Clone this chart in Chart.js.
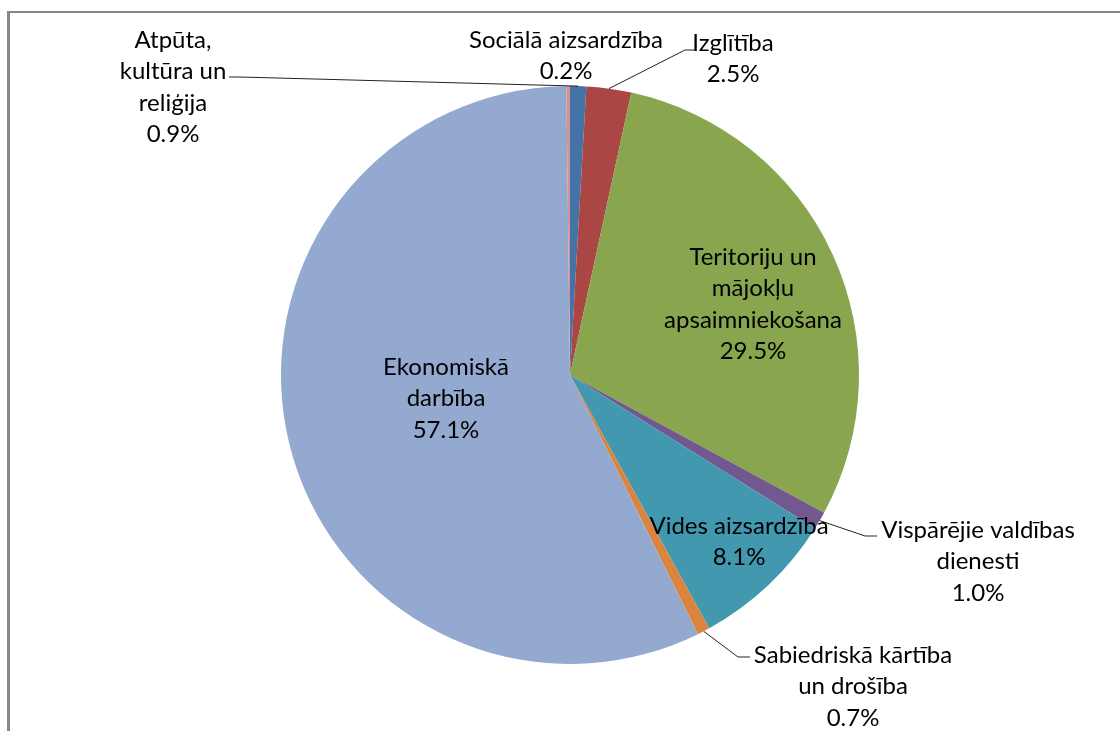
<!DOCTYPE html>
<html lang="lv">
<head>
  <meta charset="UTF-8" />
  <title>Izdevumi pa funkcijām</title>
  <script src="https://cdn.jsdelivr.net/npm/chart.js"></script>
  <style>
    body { margin: 0; background: #fff; }
    #wrap { position: relative; width: 1120px; height: 731px; overflow: hidden; }
    #frame {
      position: absolute; left: 7px; top: 11px; width: 1200px; height: 800px;
      border-top: 2px solid #868686; border-left: 3px solid #868686;
    }
    canvas { position: absolute; left: 0; top: 0; }
  </style>
</head>
<body>
<div id="wrap">
  <div id="frame"></div>
  <canvas id="pie" width="1120" height="731"></canvas>
</div>

<script>
// categories (already split into the lines shown on the chart)
const categories = [
  ['Atpūta,', 'kultūra un', 'reliģija'],
  ['Izglītība'],
  ['Teritoriju un', 'mājokļu', 'apsaimniekošana'],
  ['Vispārējie valdības', 'dienesti'],
  ['Vides aizsardzība'],
  ['Sabiedriskā kārtība', 'un drošība'],
  ['Ekonomiskā', 'darbība'],
  ['Sociālā aizsardzība']
];
const shares = [0.9, 2.5, 29.5, 1.0, 8.1, 0.7, 57.1, 0.2];
const colors = ['#4572A7', '#AA4643', '#89A54E', '#71588F', '#4198AF', '#DB843D', '#93A9CF', '#D19392'];

// label placement relative to pie centre: text centre of first line, optional leader elbow + end
const labelLayout = [
  { dx: -397, dy: -335, elbow: [-330, -298], end: [-341, -298] },
  { dx: 163, dy: -332, elbow: [115, -325], end: [125, -325] },
  { dx: 183, dy: -118 },
  { dx: 408, dy: 155, elbow: [295, 161], end: [307, 161] },
  { dx: 169, dy: 151 },
  { dx: 283, dy: 280, elbow: [168, 282], end: [180, 282] },
  { dx: -124, dy: -8 },
  { dx: -4, dy: -335 }
];

const FONT = '24px Lato, "Open Sans", sans-serif';
const LINE_H = 31.5;

const pieLabels = {
  id: 'pieLabels',
  afterDatasetsDraw(chart) {
    const ctx = chart.ctx;
    const arcs = chart.getDatasetMeta(0).data;
    ctx.save();
    ctx.font = FONT;
    ctx.textAlign = 'center';
    ctx.textBaseline = 'middle';
    arcs.forEach((arc, i) => {
      const L = labelLayout[i];
      const cx = arc.x, cy = arc.y;
      if (L.elbow) {
        const mid = (arc.startAngle + arc.endAngle) / 2;
        const px = cx + Math.cos(mid) * arc.outerRadius;
        const py = cy + Math.sin(mid) * arc.outerRadius;
        ctx.strokeStyle = '#222';
        ctx.lineWidth = 1;
        ctx.beginPath();
        ctx.moveTo(px, py);
        ctx.lineTo(cx + L.elbow[0], cy + L.elbow[1]);
        ctx.lineTo(cx + L.end[0], cy + L.end[1]);
        ctx.stroke();
      }
      const lines = categories[i].concat([shares[i].toFixed(1) + '%']);
      ctx.fillStyle = '#000';
      lines.forEach((t, k) => {
        ctx.fillText(t, cx + L.dx, cy + L.dy + k * LINE_H);
      });
    });
    ctx.restore();
  }
};

new Chart(document.getElementById('pie'), {
  type: 'pie',
  data: {
    labels: categories.map(c => c.join(' ')),
    datasets: [{
      data: shares,
      backgroundColor: colors,
      borderWidth: 0
    }]
  },
  options: {
    responsive: false,
    animation: false,
    layout: { padding: { top: 86, bottom: 67, left: 20, right: 0 } },
    plugins: {
      legend: { display: false },
      tooltip: { enabled: false }
    }
  },
  plugins: [pieLabels]
});
</script>
</body>
</html>
